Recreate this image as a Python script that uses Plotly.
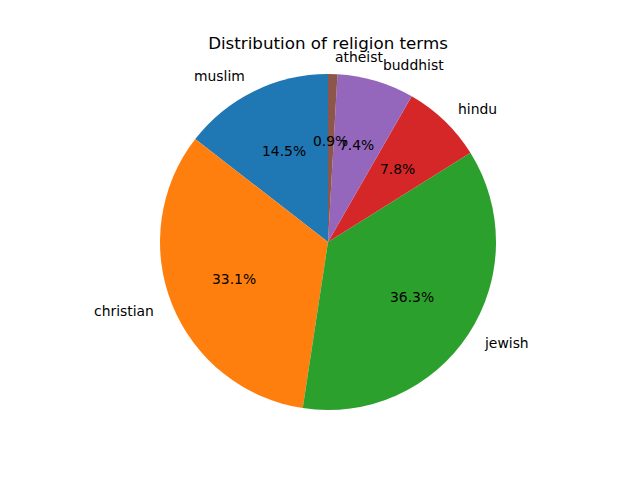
import numpy as np
import plotly.graph_objects as go

labels = ["muslim", "christian", "jewish", "hindu", "buddhist", "atheist"]
values = [14.5, 33.1, 36.3, 7.8, 7.4, 0.9]
colors = ["#1f77b4", "#ff7f0e", "#2ca02c", "#d62728", "#9467bd", "#8c564b"]

W, H = 640, 480
off = 8  # page body margin in the browser
cx, cy, R = 328 - off, 242 - off, 168
ml, mr, mt, mb = cx - R, W - (cx + R), cy - R, H - (cy + R)

vals = np.array(values, dtype=float)
frac = vals / vals.sum()

fig = go.Figure(go.Pie(
    labels=labels, values=values, marker=dict(colors=colors, line=dict(width=0)),
    sort=False, direction="counterclockwise", rotation=-360 * frac[0],
    textinfo="none", hoverinfo="label+percent", showlegend=False,
))

cum = np.cumsum(frac) - frac / 2
ang = np.deg2rad(90 + 360 * cum)
font = dict(family="DejaVu Sans", size=13.9, color="black")
ann = []
for lab, f, a in zip(labels, frac, ang):
    x, y = np.cos(a), np.sin(a)
    ann.append(dict(x=0.5 + 0.5 * 1.1 * x, y=0.5 + 0.5 * 1.1 * y, xref="paper", yref="paper",
                    text=lab, showarrow=False, xanchor="left" if x > 0 else "right",
                    yanchor="middle", font=font))
    ann.append(dict(x=0.5 + 0.5 * 0.6 * x, y=0.5 + 0.5 * 0.6 * y, xref="paper", yref="paper",
                    text=f"{f*100:.1f}%", showarrow=False, xanchor="center",
                    yanchor="middle", font=font))

fig.update_layout(
    width=W, height=H, margin=dict(l=ml, r=mr, t=mt, b=mb),
    paper_bgcolor="white", plot_bgcolor="white",
    title=dict(text="Distribution of religion terms", x=cx / W, xanchor="center",
               y=1 - (43 - off) / H, yanchor="middle",
               font=dict(family="DejaVu Sans", size=16.7, color="black")),
    annotations=ann,
)
fig.write_html("out.html")
